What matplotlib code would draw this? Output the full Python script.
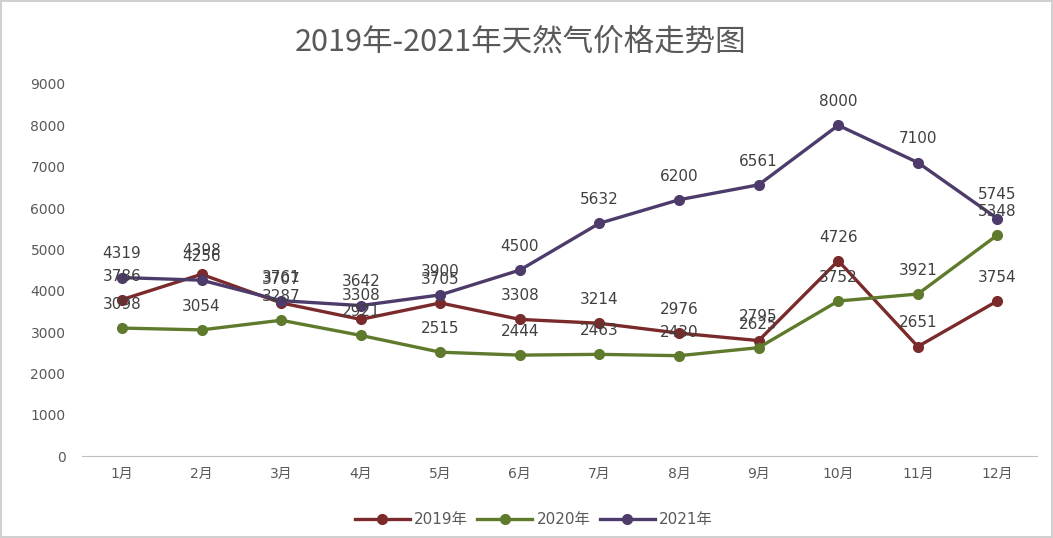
import matplotlib
matplotlib.use("Agg")
import matplotlib.pyplot as plt

plt.rcParams["font.family"] = ["DejaVu Sans", "Noto Sans CJK SC"]

months = ["1月", "2月", "3月", "4月", "5月", "6月", "7月", "8月", "9月", "10月", "11月", "12月"]
y2019 = [3786, 4398, 3707, 3308, 3705, 3308, 3214, 2976, 2795, 4726, 2651, 3754]
y2020 = [3098, 3054, 3287, 2921, 2515, 2444, 2463, 2430, 2625, 3752, 3921, 5348]
y2021 = [4319, 4256, 3761, 3642, 3900, 4500, 5632, 6200, 6561, 8000, 7100, 5745]

series = [
    ("2019年", y2019, "#7a2a2a"),
    ("2020年", y2020, "#5f7a2c"),
    ("2021年", y2021, "#4d3b6b"),
]

fig = plt.figure(figsize=(10.53, 5.38), dpi=100)
fig.patch.set_edgecolor("#d0d0d0")
fig.patch.set_linewidth(1.5)
ax = fig.add_axes([0.078, 0.152, 0.907, 0.692])

x = list(range(len(months)))
for name, vals, col in series:
    ax.plot(x, vals, color=col, lw=2.4, marker="o", ms=7, label=name)
    for xi, v in zip(x, vals):
        ax.annotate(str(v), (xi, v), xytext=(0, 17), textcoords="offset points",
                    ha="center", va="center", fontsize=11, color="#404040")

ax.set_xlim(-0.5, 11.5)
ax.set_ylim(0, 9000)
ax.set_yticks(range(0, 9001, 1000))
ax.set_xticks(x)
ax.set_xticklabels(months)
ax.tick_params(axis="both", length=0, labelsize=10, colors="#595959")
ax.tick_params(axis="y", pad=12)
ax.tick_params(axis="x", pad=8)
for s in ["top", "right", "left"]:
    ax.spines[s].set_visible(False)
ax.spines["bottom"].set_color("#bfbfbf")

fig.text(0.494, 0.922, "2019年-2021年天然气价格走势图", ha="center", va="center",
         fontsize=22, color="#595959", family=["Noto Sans CJK SC", "DejaVu Sans"])

fig.legend(loc="lower center", ncol=3, frameon=False, bbox_to_anchor=(0.507, -0.005),
           fontsize=11, labelcolor="#595959", handlelength=3.6, columnspacing=0.6,
           handletextpad=0.3)

fig.savefig("out.png", dpi=100, edgecolor=fig.get_edgecolor())
